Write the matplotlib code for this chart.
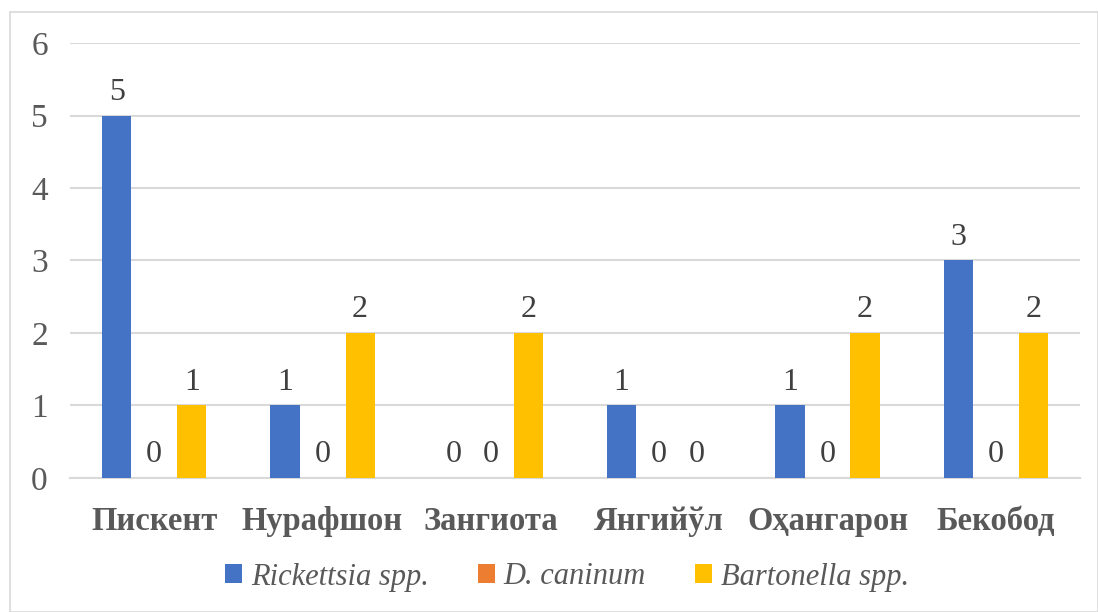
import numpy as np
import matplotlib.pyplot as plt
from matplotlib.patches import Rectangle

# ==== Données ====
districts = ["Пискент", "Нурафшон", "Зангиота", "Янгийўл", "Оҳангарон", "Бекобод"]
rickettsia = [5, 1, 0, 1, 1, 3]
caninum = [0, 0, 0, 0, 0, 0]
bartonella = [1, 2, 2, 0, 2, 2]
series_names = ["Rickettsia spp.", "D. caninum", "Bartonella spp."]
colors = ["#4472C4", "#ED7D31", "#FFC000"]
y_ticks = [0, 1, 2, 3, 4, 5, 6]

plt.rcParams['font.family'] = ['Liberation Serif', 'DejaVu Serif']

fig = plt.figure(figsize=(10.98, 6.12), dpi=100)
ax = fig.add_axes([0.0638, 0.219, 0.9198, 0.7107])

# cadre extérieur
fig.patches.append(Rectangle((10/1098, 0), 1 - 10/1098, 1 - 12/612, transform=fig.transFigure,
                             fill=False, edgecolor="#d9d9d9", linewidth=1.2))

x = np.arange(len(districts))
w = 0.173
off = 0.223
for i, (vals, name, c) in enumerate(zip([rickettsia, caninum, bartonella], series_names, colors)):
    pos = x + (i - 1) * off
    bars = ax.bar(pos, vals, width=w, color=c, label=name, zorder=3)
    for p, v in zip(pos, vals):
        ax.text(p, v + 0.12, str(v), ha='center', va='bottom', fontsize=23, color="#404040")

ax.set_xlim(-0.5, len(districts) - 0.5)
ax.set_ylim(0, 6)
ax.set_yticks(y_ticks)
ax.set_yticklabels([str(t) for t in y_ticks], fontsize=24, color="#595959")
ax.set_xticks(x)
ax.set_xticklabels(districts, fontsize=23.5, fontweight='bold', color="#595959")
ax.tick_params(axis='y', length=0, pad=16)
ax.tick_params(axis='x', length=0, pad=20)
ax.yaxis.grid(True, color="#d9d9d9", linewidth=1.5, zorder=0)
for s in ["top", "right", "left"]:
    ax.spines[s].set_visible(False)
ax.spines["bottom"].set_color("#d9d9d9")
ax.spines["bottom"].set_linewidth(1.5)

leg = ax.legend(loc='center', bbox_to_anchor=(567/1098, 1 - 577/612), bbox_transform=fig.transFigure,
                ncol=3, frameon=False, prop={'style': 'italic', 'size': 22},
                handlelength=0.55, handleheight=0.55, handletextpad=0.3, columnspacing=1.6)
for t in leg.get_texts():
    t.set_color("#595959")

fig.savefig("out.png", dpi=100)
